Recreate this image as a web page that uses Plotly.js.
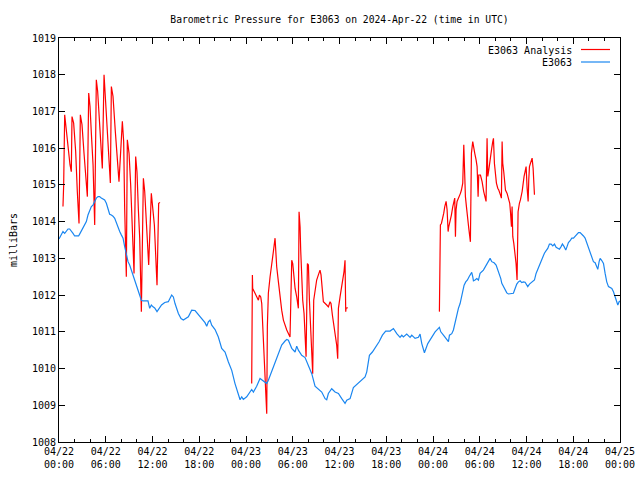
<!DOCTYPE html>
<html>
<head>
<meta charset="utf-8">
<script src="https://cdn.plot.ly/plotly-3.0.1.min.js"></script>
<style>html,body{margin:0;padding:0;background:#fff;}#chart{width:640px;height:480px;}</style>
</head>
<body>
<div id="chart"></div>
<script>
// Hours since 2024-04-22 00:00 UTC and pressure (mb)
const analysisSeg1Hours = [0.51,0.60,0.73,0.94,1.16,1.41,1.58,1.67,1.88,2.14,2.35,2.57,2.74,2.95,3.21,3.47,3.64,3.81,3.98,4.15,4.37,4.58,4.79,4.96,5.18,5.43,5.56,5.78,5.95,6.16,6.42,6.59,6.72,6.93,7.23,7.49,7.70,8.13,8.30,8.43,8.64,8.77,8.99,9.20,9.37,9.63,9.84,10.01,10.18,10.36,10.57,10.83,11.00,11.21,11.51,11.85,12.02,12.24,12.58,12.79,12.97];
const analysisSeg1Values = [1014.41,1015.00,1016.91,1016.50,1015.95,1015.55,1015.36,1016.86,1016.68,1015.91,1014.82,1013.95,1016.91,1016.64,1015.86,1015.27,1014.68,1017.50,1017.14,1016.41,1015.55,1013.91,1017.86,1017.55,1016.82,1015.68,1015.45,1018.00,1017.36,1016.64,1015.73,1015.05,1017.68,1017.41,1016.45,1015.55,1015.09,1016.73,1016.18,1014.36,1012.50,1016.23,1015.86,1015.00,1013.91,1012.59,1015.77,1015.36,1014.36,1013.55,1011.55,1015.18,1014.82,1014.00,1012.82,1014.77,1014.45,1013.91,1012.27,1014.50,1014.52];

const analysisSeg2Hours = [24.73,24.78,24.82,24.86,25.16,25.38,25.59,25.72,25.89,26.02,26.15,26.32,26.44,26.57,26.66,26.74,26.87,27.09,27.30,27.51,27.73,27.94,28.16,28.37,28.58,28.80,29.23,29.65,29.78,29.87,30.00,30.17,30.30,30.51,30.72,30.81,30.94,31.02,31.15,31.28,31.45,31.58,31.71,31.88,32.01,32.14,32.31,32.44,32.56,32.69,32.86,33.07,33.29,33.50,33.63,33.80,33.93,34.36,34.57,34.79,34.91,35.09,35.30,35.51,35.64,35.77,35.86,36.07,36.28,36.41,36.58,36.71,36.80,36.84,37.05];
const analysisSeg2Values = [1009.59,1011.09,1012.55,1012.18,1012.05,1011.95,1011.86,1012.00,1011.95,1011.77,1011.14,1010.64,1010.09,1009.32,1008.77,1011.14,1012.05,1012.50,1012.91,1013.18,1013.55,1012.77,1012.36,1011.95,1011.59,1011.32,1011.05,1010.86,1011.95,1012.95,1012.86,1012.45,1012.18,1011.95,1011.64,1014.27,1013.86,1013.23,1012.36,1011.86,1011.50,1011.00,1010.32,1012.86,1012.82,1011.86,1011.14,1010.50,1009.86,1011.86,1012.18,1012.41,1012.55,1012.68,1012.55,1012.23,1011.82,1011.73,1011.68,1011.82,1011.77,1011.45,1011.18,1010.86,1010.64,1010.27,1011.64,1011.95,1012.23,1012.41,1012.64,1012.95,1011.55,1011.64,1011.66];

const analysisSeg3Hours = [48.82,48.86,48.95,49.08,49.25,49.38,49.51,49.68,49.81,49.94,50.02,50.24,50.36,50.54,50.66,50.79,50.88,50.96,51.09,51.31,51.52,51.65,51.82,51.95,52.03,52.08,52.16,52.29,52.42,52.59,52.80,52.93,53.10,53.23,53.36,53.53,53.66,53.79,53.87,54.09,54.30,54.51,54.64,54.81,54.94,55.03,55.16,55.28,55.41,55.54,55.67,55.76,55.88,56.01,56.14,56.31,56.44,56.65,56.78,56.87,56.95,57.08,57.21,57.30,57.51,57.72,57.85,57.94,58.07,58.15,58.24,58.37,58.49,58.66,58.79,58.92,59.09,59.22,59.44,59.56,59.69,59.82,59.95,60.08,60.21,60.29,60.38,60.51,60.63,60.72,60.85,60.93,61.02];
const analysisSeg3Values = [1011.55,1013.77,1013.91,1013.95,1014.09,1014.23,1014.41,1014.55,1014.32,1013.73,1013.86,1014.05,1014.18,1014.41,1014.59,1014.64,1013.59,1014.32,1014.55,1014.64,1014.77,1014.86,1015.05,1016.09,1015.45,1015.05,1014.68,1014.41,1014.05,1013.82,1013.45,1015.86,1016.18,1015.95,1015.86,1015.68,1015.50,1014.68,1015.27,1015.27,1015.09,1014.82,1014.68,1014.55,1016.27,1015.23,1015.41,1015.64,1015.82,1016.00,1016.18,1016.27,1015.59,1015.23,1015.05,1014.91,1014.86,1014.73,1014.64,1016.18,1015.59,1015.36,1014.95,1014.86,1014.77,1014.64,1014.50,1014.27,1013.86,1014.41,1013.59,1013.41,1013.23,1012.86,1012.41,1014.27,1014.50,1014.59,1014.82,1015.05,1015.23,1015.36,1015.50,1014.91,1014.55,1015.14,1015.50,1015.59,1015.68,1015.73,1015.45,1015.09,1014.73];

const stationHours = [0.00,0.30,0.51,0.73,0.94,1.16,1.37,1.58,1.80,2.01,2.52,2.70,2.95,3.21,3.51,3.72,3.94,4.15,4.36,4.58,4.79,5.01,5.22,5.43,5.65,5.86,6.08,6.29,6.50,6.72,6.93,7.15,7.36,7.57,7.79,8.00,8.22,8.43,8.64,8.86,9.07,9.29,9.50,9.72,9.93,10.14,10.36,10.57,10.78,11.42,11.64,11.85,12.07,12.28,12.58,12.93,13.16,13.57,14.03,14.46,14.68,14.89,15.10,15.32,15.66,15.96,16.60,17.03,17.46,17.89,18.31,18.74,18.96,19.17,19.38,19.60,20.03,20.45,20.88,21.31,21.74,22.17,22.59,23.02,23.24,23.45,23.66,24.09,24.52,24.73,24.95,25.37,25.80,26.02,26.44,26.66,26.87,27.30,27.73,28.16,28.58,29.01,29.23,29.44,29.87,30.30,30.51,30.72,31.15,31.58,32.01,32.44,32.86,33.29,33.72,34.15,34.36,34.57,35.00,35.43,35.86,36.29,36.71,36.93,37.36,37.78,38.00,38.85,39.28,39.50,39.71,39.84,40.22,40.65,41.08,41.51,41.93,42.49,42.92,43.35,43.77,43.99,44.20,44.63,45.06,45.27,45.70,46.13,46.34,46.56,46.90,47.33,47.84,48.27,48.82,49.00,49.34,49.68,49.98,50.11,50.41,50.62,50.83,51.05,51.26,51.48,51.69,51.82,51.99,52.20,52.42,52.63,52.85,52.97,53.10,53.19,53.40,53.62,53.83,54.04,54.47,54.90,55.33,55.54,55.84,56.10,56.27,56.48,56.70,56.83,57.04,57.25,57.47,57.68,58.11,58.32,58.54,58.75,58.96,59.18,59.39,59.61,59.82,60.16,60.38,60.81,61.02,61.23,61.40,61.66,61.87,62.09,62.30,62.52,62.73,62.94,63.16,63.37,63.59,63.80,64.23,64.44,64.61,64.83,65.04,65.17,65.38,65.60,65.81,66.03,66.24,66.45,66.67,66.88,67.09,67.31,67.52,67.74,67.95,68.16,68.38,68.59,68.81,69.02,69.15,69.32,69.45,69.66,69.88,70.09,70.30,70.52,70.73,70.95,71.16,71.37,71.59,71.72,71.89,72.00];
const stationValues = [1013.53,1013.64,1013.73,1013.68,1013.73,1013.80,1013.80,1013.75,1013.68,1013.61,1013.61,1013.68,1013.77,1013.86,1014.00,1014.18,1014.32,1014.41,1014.45,1014.55,1014.64,1014.68,1014.68,1014.64,1014.61,1014.59,1014.50,1014.36,1014.20,1014.18,1014.15,1014.09,1013.95,1013.82,1013.73,1013.64,1013.55,1013.32,1013.09,1012.91,1012.82,1012.68,1012.59,1012.45,1012.32,1012.18,1012.00,1011.86,1011.84,1011.84,1011.64,1011.73,1011.68,1011.65,1011.55,1011.68,1011.73,1011.80,1011.82,1012.00,1011.95,1011.77,1011.64,1011.50,1011.36,1011.32,1011.41,1011.59,1011.58,1011.47,1011.36,1011.25,1011.15,1011.27,1011.32,1011.18,1011.06,1010.86,1010.55,1010.45,1010.18,1009.95,1009.59,1009.27,1009.15,1009.23,1009.16,1009.23,1009.36,1009.43,1009.36,1009.52,1009.73,1009.70,1009.64,1009.59,1009.68,1009.91,1010.14,1010.41,1010.64,1010.75,1010.79,1010.77,1010.55,1010.45,1010.61,1010.50,1010.36,1010.30,1010.09,1009.86,1009.52,1009.45,1009.36,1009.18,1009.15,1009.32,1009.45,1009.36,1009.32,1009.18,1009.05,1009.14,1009.18,1009.48,1009.52,1009.70,1009.77,1009.91,1010.18,1010.36,1010.45,1010.59,1010.73,1010.91,1011.02,1011.02,1011.09,1010.95,1010.85,1010.91,1010.86,1010.94,1010.85,1010.91,1010.82,1010.85,1010.94,1010.68,1010.43,1010.68,1010.86,1011.00,1011.12,1011.00,1010.91,1010.82,1010.73,1010.91,1010.95,1011.05,1011.25,1011.45,1011.64,1011.77,1011.95,1012.14,1012.27,1012.36,1012.41,1012.50,1012.61,1012.62,1012.50,1012.39,1012.41,1012.45,1012.41,1012.59,1012.68,1012.86,1013.00,1012.91,1012.88,1012.82,1012.73,1012.59,1012.45,1012.32,1012.23,1012.14,1012.06,1012.03,1012.03,1012.05,1012.18,1012.30,1012.36,1012.39,1012.34,1012.36,1012.35,1012.23,1012.30,1012.36,1012.41,1012.59,1012.68,1012.82,1012.91,1013.00,1013.14,1013.21,1013.27,1013.39,1013.39,1013.34,1013.39,1013.30,1013.25,1013.32,1013.39,1013.32,1013.23,1013.30,1013.43,1013.48,1013.55,1013.55,1013.61,1013.64,1013.70,1013.70,1013.66,1013.61,1013.55,1013.41,1013.27,1013.14,1013.00,1012.91,1012.88,1012.77,1012.70,1012.91,1013.00,1012.94,1012.86,1012.59,1012.36,1012.23,1012.21,1012.18,1012.09,1011.95,1011.82,1011.73,1011.82,1011.84];

const tickHours = [0,6,12,18,24,30,36,42,48,54,60,66,72];
const tickLabels = ['04/22<br>00:00','04/22<br>06:00','04/22<br>12:00','04/22<br>18:00','04/23<br>00:00','04/23<br>06:00','04/23<br>12:00','04/23<br>18:00','04/24<br>00:00','04/24<br>06:00','04/24<br>12:00','04/24<br>18:00','04/25<br>00:00'];

const seriesNames = ['E3063 Analysis','E3063'];
const titleText = 'Barometric Pressure for E3063 on 2024-Apr-22 (time in UTC)';

const baseMs = Date.UTC(2024, 3, 22, 0, 0, 0);
function toDate(h) {
  if (h === null) return null;
  return new Date(baseMs + Math.round(h * 3600000)).toISOString().slice(0, 19).replace('T', ' ');
}

const redX = [].concat(analysisSeg1Hours.map(toDate), [null], analysisSeg2Hours.map(toDate), [null], analysisSeg3Hours.map(toDate));
const redY = [].concat(analysisSeg1Values, [null], analysisSeg2Values, [null], analysisSeg3Values);

const FONT = 'DejaVu Sans Mono, Liberation Mono, monospace';
const RED = '#ff0000';
const BLUE = '#1a86f0';

const traces = [
  { x: redX, y: redY, type: 'scatter', mode: 'lines', name: seriesNames[0],
    line: { color: RED, width: 1.2 }, connectgaps: false },
  { x: stationHours.map(toDate), y: stationValues, type: 'scatter', mode: 'lines', name: seriesNames[1],
    line: { color: BLUE, width: 1.2 } }
];

const L = 59, R = 20, T = 38, B = 38, W = 640, H = 480;
const pw = W - L - R, ph = H - T - B;
function px(x) { return (x - L) / pw; }
function py(y) { return (H - B - y) / ph; }

const layout = {
  width: W, height: H,
  margin: { l: L, r: R, t: T, b: B, pad: 0 },
  paper_bgcolor: '#ffffff', plot_bgcolor: '#ffffff',
  font: { family: FONT, size: 10, color: '#000' },
  showlegend: false,
  title: { text: titleText, font: { family: FONT, size: 9.7, color: '#000' },
    x: 0.5, xref: 'paper', xanchor: 'center', y: 1 - 19.5 / H, yref: 'container', yanchor: 'middle' },
  xaxis: {
    type: 'date',
    range: [toDate(0), toDate(72)],
    tickmode: 'array', tickvals: tickHours.map(toDate), ticktext: tickLabels,
    ticks: 'inside', ticklen: 6, tickcolor: '#000', tickwidth: 1,
    minor: { tickmode: 'linear', tick0: toDate(0), dtick: 2 * 3600000, ticks: 'inside', ticklen: 3, tickcolor: '#000', showgrid: false },
    showline: true, linecolor: '#000', linewidth: 1, mirror: 'allticks',
    showgrid: false, zeroline: false,
    tickfont: { family: FONT, size: 10, color: '#000' }
  },
  yaxis: {
    range: [1008, 1019], tickmode: 'linear', tick0: 1008, dtick: 1,
    ticks: 'inside', ticklen: 6, tickcolor: '#000', tickwidth: 1,
    showline: true, linecolor: '#000', linewidth: 1, mirror: 'allticks',
    showgrid: false, zeroline: false,
    tickfont: { family: FONT, size: 10, color: '#000' },
    title: { text: 'milliBars', font: { family: FONT, size: 10, color: '#000' }, standoff: 12 }
  },
  annotations: [
    { text: seriesNames[0], xref: 'paper', yref: 'paper', x: px(574), y: py(50), xanchor: 'right', yanchor: 'middle', showarrow: false, font: { family: FONT, size: 10, color: '#000' } },
    { text: seriesNames[1], xref: 'paper', yref: 'paper', x: px(574), y: py(62), xanchor: 'right', yanchor: 'middle', showarrow: false, font: { family: FONT, size: 10, color: '#000' } }
  ],
  shapes: [
    { type: 'line', xref: 'paper', yref: 'paper', x0: px(581), x1: px(610), y0: py(49.5), y1: py(49.5), line: { color: RED, width: 1.2 } },
    { type: 'line', xref: 'paper', yref: 'paper', x0: px(581), x1: px(610), y0: py(62), y1: py(62), line: { color: BLUE, width: 1.2 } }
  ]
};

Plotly.newPlot('chart', traces, layout, { displayModeBar: false, staticPlot: true });
</script>
</body>
</html>
